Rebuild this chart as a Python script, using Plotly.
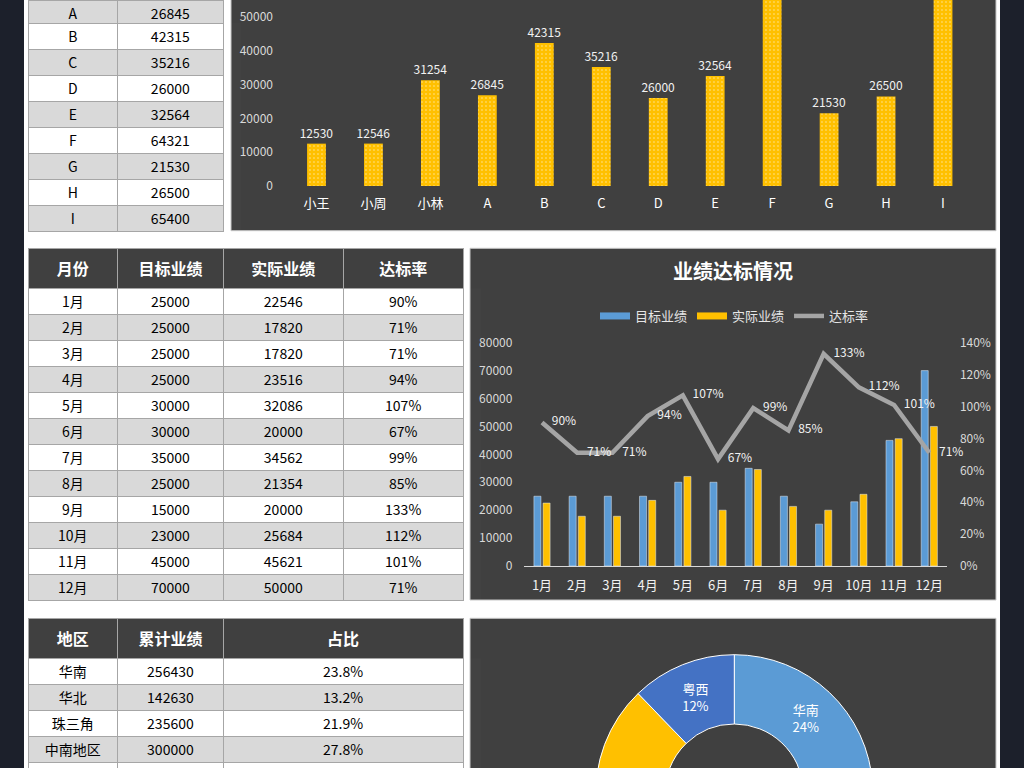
import plotly.graph_objects as go

# ---------------- data ----------------
staff_names = ["小王", "小周", "小林", "A", "B", "C", "D", "E", "F", "G", "H", "I"]
staff_sales = [12530, 12546, 31254, 26845, 42315, 35216, 26000, 32564, 64321, 21530, 26500, 65400]

months = ["1月", "2月", "3月", "4月", "5月", "6月", "7月", "8月", "9月", "10月", "11月", "12月"]
target = [25000, 25000, 25000, 25000, 30000, 30000, 35000, 25000, 15000, 23000, 45000, 70000]
actual = [22546, 17820, 17820, 23516, 32086, 20000, 34562, 21354, 20000, 25684, 45621, 50000]
rate = [0.90, 0.71, 0.71, 0.94, 1.07, 0.67, 0.99, 0.85, 1.33, 1.12, 1.01, 0.71]

regions = ["华南", "华北", "珠三角", "中南地区", "粤西"]
region_sales = [256430, 142630, 235600, 300000, 130000]
region_share = ["23.8%", "13.2%", "21.9%", "27.8%", "12.2%"]

# ---------------- styling ----------------
W, H = 1024, 960
FONT = "Microsoft YaHei, Noto Sans CJK SC, sans-serif"
BLUE, GOLD, GRAY, ORANGE, DBLUE = "#5b9bd5", "#ffc000", "#a5a5a5", "#ed7d31", "#4472c4"
PANEL = "#404040"
ROWGRAY = "#d9d9d9"
LINEC = "#a6a6a6"


def fx(p):
    return p / W


def fy(p):
    return 1 - p / H


# visible value range of the (scrolled) top chart
TOP_MAX = 186 / 0.00338

fig = go.Figure()

# ---------------- top bar chart ----------------
fig.add_trace(go.Bar(
    x=staff_names, y=staff_sales, xaxis="x", yaxis="y", width=0.33,
    marker=dict(color=GOLD, line=dict(width=0),
                pattern=dict(shape=".", fillmode="replace", bgcolor=GOLD,
                             fgcolor="rgba(255,255,255,0.6)", size=4, solidity=0.12)),
    text=staff_sales, texttemplate="%{text}",
    textposition=["outside" if v < TOP_MAX else "none" for v in staff_sales],
    constraintext="none",
    textfont=dict(color="#f2f2f2", size=12, family=FONT), cliponaxis=True,
    showlegend=False,
))

# ---------------- combo chart ----------------
fig.add_trace(go.Bar(x=months, y=target, xaxis="x2", yaxis="y2", marker_color=BLUE,
                     width=0.2, offset=-0.23, showlegend=False, name="目标业绩"))
fig.add_trace(go.Bar(x=months, y=actual, xaxis="x2", yaxis="y2", marker_color=GOLD,
                     width=0.2, offset=0.03, showlegend=False, name="实际业绩"))
# legend swatches in the Excel style (wide flat bars)
fig.add_trace(go.Scatter(x=[None], y=[None], xaxis="x2", yaxis="y2", mode="lines",
                         line=dict(color=BLUE, width=7), name="目标业绩"))
fig.add_trace(go.Scatter(x=[None], y=[None], xaxis="x2", yaxis="y2", mode="lines",
                         line=dict(color=GOLD, width=7), name="实际业绩"))
fig.add_trace(go.Scatter(
    x=months, y=rate, xaxis="x2", yaxis="y3", mode="lines+markers+text", name="达标率",
    line=dict(color=GRAY, width=4.5), marker=dict(size=14, color="rgba(0,0,0,0)"),
    text=[f"{round(r * 100)}%" for r in rate], textposition="middle right",
    textfont=dict(color="#f2f2f2", size=12, family=FONT), cliponaxis=False,
))

# ---------------- donut ----------------
fig.add_trace(go.Pie(
    labels=regions, values=region_sales, hole=0.5, sort=False, direction="clockwise",
    rotation=0, marker=dict(colors=[BLUE, ORANGE, GRAY, GOLD, DBLUE], line=dict(color="#ffffff", width=1)),
    texttemplate="%{label}<br>%{percent:.0%}",
    textposition="inside", insidetextorientation="horizontal",
    textfont=dict(color="#ffffff", size=13, family=FONT), showlegend=False,
    domain=dict(x=[fx(595.7), fx(872.9)], y=[fy(931.9), fy(654.7)]),
))

# ---------------- tables ----------------
def alt_fill(n, first_white=True):
    out = []
    for i in range(n):
        white = (i % 2 == 0) if first_white else (i % 2 == 1)
        out.append("#ffffff" if white else ROWGRAY)
    return out


# top-left table (scrolled: row "A" partly above the page)
vis_names = staff_names[3:]
vis_sales = staff_sales[3:]
body_fill = alt_fill(len(vis_names) - 1, first_white=True)
fig.add_trace(go.Table(
    domain=dict(x=[fx(28), fx(223.3)], y=[fy(245), 1]),
    columnwidth=[89.7, 105.6],
    header=dict(values=[vis_names[0], str(vis_sales[0])], height=23, fill_color=ROWGRAY,
                line=dict(color=LINEC, width=1), align="center",
                font=dict(color="#000000", size=14, family=FONT)),
    cells=dict(values=[vis_names[1:], [str(v) for v in vis_sales[1:]]], height=26,
               fill=dict(color=[body_fill, body_fill]), line=dict(color=LINEC, width=1),
               align="center", font=dict(color="#000000", size=14, family=FONT)),
))

# monthly table
mfill = alt_fill(len(months))
fig.add_trace(go.Table(
    domain=dict(x=[fx(28), fx(463.3)], y=[fy(612), fy(248.3)]),
    columnwidth=[89.7, 105.6, 120.3, 119.7],
    header=dict(values=["<b>月份</b>", "<b>目标业绩</b>", "<b>实际业绩</b>", "<b>达标率</b>"],
                height=40, fill_color=PANEL, line=dict(color=LINEC, width=1), align="center",
                font=dict(color="#ffffff", size=16, family=FONT)),
    cells=dict(values=[months, [str(v) for v in target], [str(v) for v in actual],
                       [f"{round(r * 100)}%" for r in rate]],
               height=26, fill=dict(color=[mfill] * 4), line=dict(color=LINEC, width=1),
               align="center", font=dict(color="#000000", size=14, family=FONT)),
))

# region table
rfill = alt_fill(len(regions))
fig.add_trace(go.Table(
    domain=dict(x=[fx(28), fx(463.3)], y=[0, fy(618.3)]),
    columnwidth=[89.7, 105.6, 240],
    header=dict(values=["<b>地区</b>", "<b>累计业绩</b>", "<b>占比</b>"],
                height=40, fill_color=PANEL, line=dict(color=LINEC, width=1), align="center",
                font=dict(color="#ffffff", size=16, family=FONT)),
    cells=dict(values=[regions, [str(v) for v in region_sales], region_share],
               height=26, fill=dict(color=[rfill] * 3), line=dict(color=LINEC, width=1),
               align="center", font=dict(color="#000000", size=14, family=FONT)),
))

# ---------------- background shapes ----------------
shapes = [
    dict(type="rect", xref="paper", yref="paper", x0=fx(24), x1=fx(1000), y0=-0.1, y1=1.1,
         fillcolor="#ffffff", line=dict(width=0), layer="below"),
]
for (x0, x1, y0, y1) in [(231, 996, -10, 230.7), (470, 996, 248.3, 600), (470, 996, 618.3, 990)]:
    shapes.append(dict(type="rect", xref="paper", yref="paper", x0=fx(x0), x1=fx(x1),
                       y0=fy(y1), y1=fy(y0), fillcolor=PANEL,
                       line=dict(color="#c8c8c8", width=1), layer="below"))

axis_font = dict(color="#d9d9d9", size=12, family=FONT)
fig.update_layout(
    width=W, height=H,
    margin=dict(l=0, r=0, t=0, b=0, autoexpand=False),
    paper_bgcolor="#1c202b",
    plot_bgcolor="rgba(0,0,0,0)",
    font=dict(family=FONT),
    barmode="group",
    shapes=shapes,
    xaxis=dict(domain=[fx(288), fx(971.5)], anchor="y", range=[-0.5, 11.5], showgrid=False,
               showline=False, zeroline=False, ticks="", automargin=False,
               tickfont=dict(color="#ffffff", size=13, family=FONT),
               ticklabelstandoff=8, fixedrange=True),
    yaxis=dict(domain=[fy(186), 1], anchor="x", range=[0, TOP_MAX], dtick=10000,
               showgrid=False, zeroline=False, showline=False, ticks="", automargin=False,
               tickfont=axis_font, ticklabelstandoff=14, tickformat="d"),
    xaxis2=dict(domain=[fx(524.4), fx(946.9)], anchor="y2", range=[-0.5, 11.5], showgrid=False,
                showline=True, linecolor="#d9d9d9", linewidth=1, zeroline=False, ticks="",
                automargin=False, tickfont=dict(color="#f2f2f2", size=13, family=FONT),
                ticklabelstandoff=7),
    yaxis2=dict(domain=[fy(566), fy(342.7)], anchor="x2", range=[0, 80000], dtick=10000,
                showgrid=False, zeroline=False, showline=False, ticks="", automargin=False,
                tickfont=axis_font, ticklabelstandoff=11, tickformat="d"),
    yaxis3=dict(overlaying="y2", side="right", anchor="x2", range=[0, 1.4], dtick=0.2,
                tickformat=".0%", showgrid=False, zeroline=False, showline=False, ticks="",
                automargin=False, tickfont=axis_font, ticklabelstandoff=12),
    legend=dict(orientation="h", x=fx(734.5), xanchor="center", y=fy(316), yanchor="middle",
                bgcolor="rgba(0,0,0,0)", font=dict(color="#e6e6e6", size=13, family=FONT),
                itemwidth=30, tracegroupgap=0),
    annotations=[dict(text="<b>业绩达标情况</b>", x=fx(733), y=fy(271), xref="paper", yref="paper",
                      showarrow=False, font=dict(color="#ffffff", size=20, family=FONT),
                      xanchor="center", yanchor="middle")],
)

fig.write_html("out.html", config={"displayModeBar": False},
               post_script="document.body.style.overflow='hidden';document.body.style.margin='0';")
